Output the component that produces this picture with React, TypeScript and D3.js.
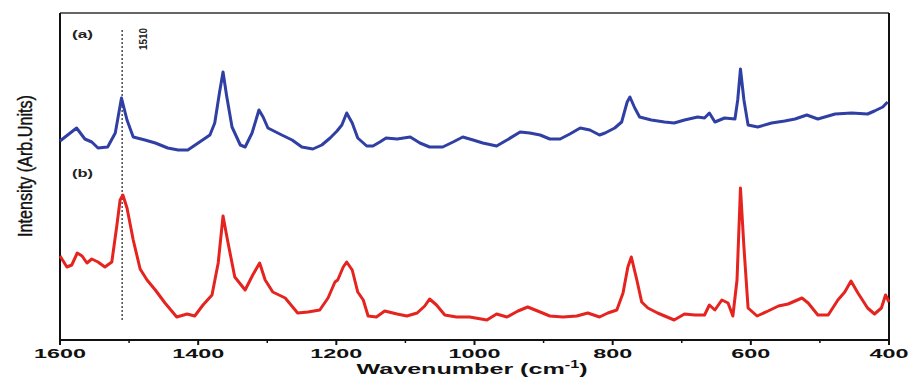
import React from "react";
import * as d3 from "d3";

const blueWn = [1600,1576,1564,1554,1545,1531,1520,1511,1503,1494,1477,1462,1444,1429,1415,1400,1383,1376,1369,1364,1359,1351,1339,1332,1322,1312,1306,1299,1279,1264,1250,1234,1221,1209,1199,1192,1185,1177,1169,1156,1147,1137,1128,1112,1093,1079,1065,1046,1031,1017,1002,988,968,953,934,920,905,891,876,862,847,833,819,811,797,787,779,775,768,761,744,725,711,696,677,667,660,652,638,623,619,615,610,604,590,570,551,536,519,503,478,454,431,421,409,402];
const blueI = [199,212,201,198,192,193,207,242,220,203,200,197,192,190,190,197,205,217,248,268,245,213,195,193,207,230,223,212,205,200,193,191,195,202,209,215,227,217,202,194,194,198,202,201,203,197,193,193,198,203,200,197,194,200,208,207,205,201,201,206,212,210,205,207,212,218,238,243,232,223,220,218,217,220,223,222,227,218,222,221,240,271,240,215,213,217,219,221,225,221,226,227,226,229,233,238];

const redWn = [1600,1590,1583,1575,1568,1561,1554,1545,1535,1525,1518,1513,1509,1503,1494,1484,1474,1462,1448,1431,1416,1405,1393,1380,1371,1364,1357,1347,1332,1321,1311,1303,1292,1274,1256,1241,1224,1212,1202,1198,1190,1185,1177,1169,1161,1154,1142,1130,1112,1098,1083,1072,1065,1055,1043,1026,1007,982,968,953,937,923,905,891,872,852,836,819,807,794,785,778,773,765,758,749,735,711,696,681,667,660,652,642,633,626,620,615,610,604,591,575,560,546,526,517,503,488,474,464,455,445,431,421,411,405,400];
const redI = [84,73,75,87,84,77,81,78,73,78,113,140,145,132,100,71,60,50,37,23,26,24,35,45,77,124,98,63,50,65,77,60,48,42,27,28,30,42,58,60,73,78,70,48,40,24,23,29,26,24,27,34,41,35,25,23,23,20,26,23,29,33,28,24,23,24,27,23,27,30,47,73,83,60,38,32,27,20,26,25,25,35,30,40,37,24,60,152,93,32,24,29,34,36,42,37,25,25,40,48,59,47,32,26,32,45,38];

const majorTicks = [1600, 1400, 1200, 1000, 800, 600, 400];
const minorTicks = [1500, 1300, 1100, 900, 700, 500];
const markerWn = 1510;

export default function App() {
  const W = 909, H = 378;
  const left = 60, right = 889, top = 13, bottom = 340;
  const x = d3.scaleLinear().domain([1600, 400]).range([left, right]);
  const y = d3.scaleLinear().domain([0, 327]).range([bottom, top]);
  const line = d3.line<number>().curve(d3.curveLinear);
  const bluePath = line(blueWn.map((w, i) => [x(w), y(blueI[i])] as any) as any);
  const redPath = line(redWn.map((w, i) => [x(w), y(redI[i])] as any) as any);
  const font = "'Liberation Sans', Arial, sans-serif";

  return (
    <svg width={W} height={H} style={{ position: "absolute", left: 0, top: 0, background: "#fff" }}>
      <rect x={0} y={0} width={W} height={H} fill="#fff" />
      {/* frame */}
      <line x1={left} x2={right} y1={top} y2={top} stroke="#333" strokeWidth={1.5} />
      <line x1={right} x2={right} y1={top} y2={bottom + 5} stroke="#111" strokeWidth={2} />
      <line x1={left} x2={left} y1={top} y2={bottom + 5} stroke="#111" strokeWidth={2} />
      <line x1={left - 1} x2={right + 1} y1={bottom} y2={bottom} stroke="#111" strokeWidth={2} />
      {majorTicks.map((t) => (
        <g key={"M" + t}>
          <line x1={x(t)} x2={x(t)} y1={bottom} y2={bottom + 5} stroke="#111" strokeWidth={2} />
          <text x={x(t)} y={358} textAnchor="middle" fontFamily={font} fontWeight="bold" fontSize={13.5}
            textLength={t >= 1000 ? 52 : 39} lengthAdjust="spacingAndGlyphs" fill="#111">{t}</text>
        </g>
      ))}
      {minorTicks.map((t) => (
        <line key={"m" + t} x1={x(t)} x2={x(t)} y1={bottom} y2={bottom + 3} stroke="#111" strokeWidth={1.5} />
      ))}
      {/* marker line */}
      <line x1={x(markerWn)} x2={x(markerWn)} y1={30} y2={320} stroke="#555" strokeWidth={1.6} strokeDasharray="2,2" />
      <text transform={`translate(147,50) rotate(-90)`} fontFamily={font} fontWeight="bold" fontSize={10}
        textLength={22} lengthAdjust="spacingAndGlyphs" fill="#222">{markerWn}</text>
      {/* curves */}
      <path d={bluePath || ""} fill="none" stroke="#2f3fa3" strokeWidth={3} strokeLinejoin="round" />
      <path d={redPath || ""} fill="none" stroke="#e5231f" strokeWidth={3} strokeLinejoin="round" />
      {/* labels */}
      <text x={72} y={38} fontFamily={font} fontWeight="bold" fontSize={10} textLength={21} lengthAdjust="spacingAndGlyphs" fill="#222">(a)</text>
      <text x={72} y={177} fontFamily={font} fontWeight="bold" fontSize={10} textLength={21} lengthAdjust="spacingAndGlyphs" fill="#222">(b)</text>
      <text transform="translate(472,373.5) scale(1.62,1)" textAnchor="middle" fontFamily={font} fontWeight="bold" fontSize={15.5}
        fill="#111">
        <tspan>Wavenumber (cm</tspan>
        <tspan dy={-6} fontSize={10}>-1</tspan>
        <tspan dy={6}>)</tspan>
      </text>
      <text transform="translate(32,166) rotate(-90)" textAnchor="middle" fontFamily={font} fontSize={20}
        stroke="#111" strokeWidth={0.4}
        textLength={142} lengthAdjust="spacingAndGlyphs" fill="#111">Intensity (Arb.Units)</text>
    </svg>
  );
}
